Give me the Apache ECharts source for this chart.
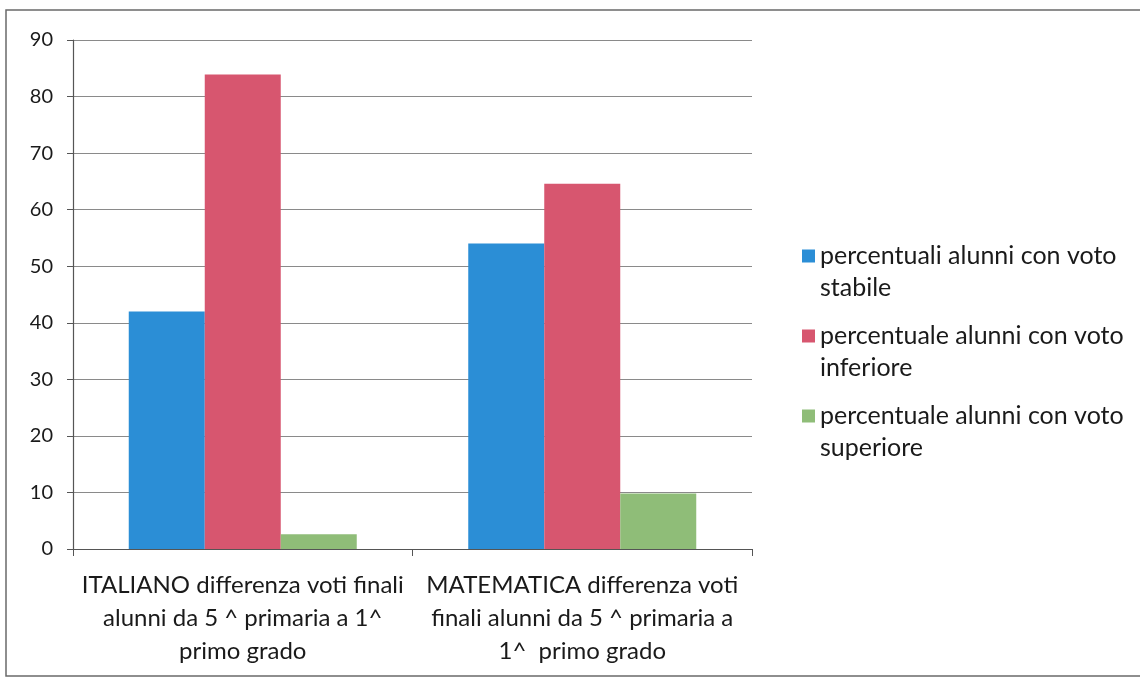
<!DOCTYPE html>
<html>
<head>
<meta charset="utf-8">
<script src="https://cdn.jsdelivr.net/npm/echarts@6/dist/echarts.min.js"></script>
<style>
html,body{margin:0;padding:0;background:#fff;}
#chart{width:1140px;height:681px;}
</style>
</head>
<body>
<div id="chart"></div>
<script>
const categories = [
  "ITALIANO differenza voti finali\nalunni da 5 ^ primaria a 1^\nprimo grado",
  "MATEMATICA differenza voti\nfinali alunni da 5 ^ primaria a\n1^  primo grado"
];
const seriesNames = [
  "percentuali alunni con voto stabile",
  "percentuale alunni con voto inferiore",
  "percentuale alunni con voto superiore"
];
const legendLabels = [
  "percentuali alunni con voto\nstabile",
  "percentuale alunni con voto\ninferiore",
  "percentuale alunni con voto\nsuperiore"
];
const stabile = [42, 54];
const inferiore = [83.9, 64.6];
const superiore = [2.6, 9.8];
const yTicks = [0, 10, 20, 30, 40, 50, 60, 70, 80, 90];

const colors = ['#2b8ed6', '#d7566f', '#8fbd78'];
const FONT = 'Lato';

const chart = echarts.init(document.getElementById('chart'));
const values = [stabile, inferiore, superiore];
chart.setOption({
  animation: false,
  backgroundColor: '#ffffff',
  textStyle: { fontFamily: FONT },
  graphic: [{
    type: 'rect',
    shape: { x: 6, y: 10, width: 1150, height: 666 },
    style: { fill: 'none', stroke: '#6a6a6a', lineWidth: 1.5 },
    silent: true, z: -1
  }],
  grid: { left: 73, right: 388, top: 40, bottom: 132, containLabel: false },
  legend: {
    orient: 'vertical',
    left: 797,
    top: 203,
    itemWidth: 13,
    itemHeight: 13,
    itemGap: -16,
    icon: 'rect',
    data: seriesNames,
    formatter: function (name) { return '\n' + legendLabels[seriesNames.indexOf(name)]; },
    textStyle: { fontFamily: FONT, fontSize: 25, color: '#1a1a1a', lineHeight: 32 }
  },
  xAxis: {
    type: 'category',
    data: categories,
    axisLine: { lineStyle: { color: '#555', width: 1.2 } },
    axisTick: { show: true, length: 7, lineStyle: { color: '#555' } },
    axisLabel: { fontFamily: FONT, fontSize: 24, color: '#1a1a1a', lineHeight: 33, margin: 20, interval: 0 }
  },
  yAxis: {
    type: 'value',
    min: yTicks[0],
    max: yTicks[yTicks.length - 1],
    interval: 10,
    axisLine: { show: true, lineStyle: { color: '#555', width: 1.2 } },
    axisTick: { show: true, length: 6, lineStyle: { color: '#555' } },
    axisLabel: { fontFamily: FONT, fontSize: 20, color: '#1a1a1a', margin: 20 },
    splitLine: { lineStyle: { color: '#8a8a8a', width: 1.2 } }
  },
  series: seriesNames.map((n, i) => ({
    name: n,
    type: 'bar',
    data: values[i],
    barWidth: 76,
    barGap: '0%',
    itemStyle: { color: colors[i] }
  }))
});
</script>
</body>
</html>
